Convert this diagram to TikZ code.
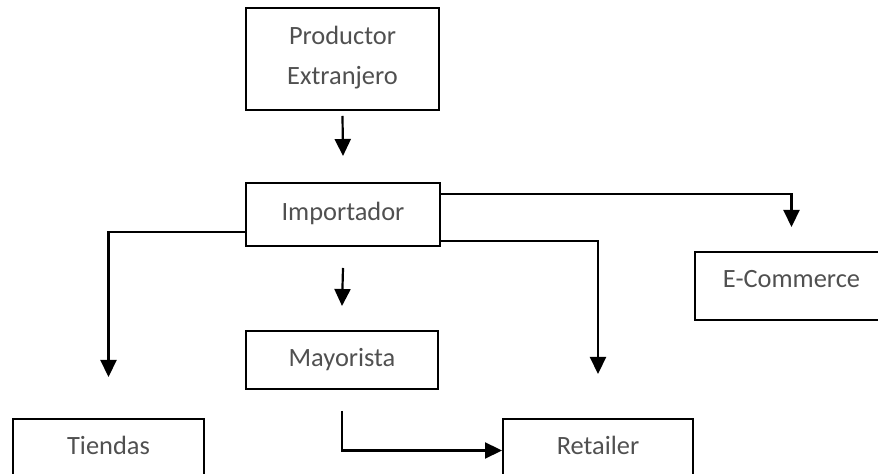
\documentclass[tikz,border=0pt]{standalone}
\usepackage{fontspec}
\setmainfont{Carlito}
\usetikzlibrary{arrows.meta}
\definecolor{labelgray}{RGB}{80,80,80}
\tikzset{
  boxnode/.style={draw, line width=1pt, inner sep=0pt, align=center,
    font=\fontsize{13.2}{20}\selectfont, text=labelgray},
  flow/.style={line width=1.1pt, -{Triangle[width=8pt,length=8.5pt]}},
}
\begin{document}
\begin{tikzpicture}[x=0.5pt,y=-0.5pt]
% Page size, as in the reference
\useasboundingbox (0,0) rectangle (878,474);
\clip (0,0) rectangle (878,474);

% The boxes
\node[boxnode, minimum width=96.5pt, text height=38.5pt, text depth=12.5pt] (prod) at (342.5,59) {Productor\\Extranjero};
\node[boxnode, minimum width=97pt, text height=19pt, text depth=12.5pt] (imp) at (343,214.5) {Importador};
\node[boxnode, minimum width=96.5pt, text height=18pt, text depth=16pt] (ecom) at (791.5,286) {E-Commerce};
\node[boxnode, minimum width=96pt, text height=18pt, text depth=11pt] (may) at (342,360) {Mayorista};
\node[boxnode, minimum width=95.5pt, text height=18pt, text depth=13.5pt] (tiendas) at (108.5,450.5) {Tiendas};
\node[boxnode, minimum width=95pt, text height=18pt, text depth=13.5pt] (retailer) at (598,450.5) {Retailer};

% The arrows
\draw[flow] ([yshift=-2.5pt]prod.south) -- ([yshift=13pt]imp.north);
\draw[flow] ([yshift=-8.75pt]imp.west) -| ([yshift=20.5pt]tiendas.north);
\draw[flow] ([yshift=10.25pt]imp.east) -| ([yshift=12pt]ecom.north);
\draw[flow] ([yshift=-13.25pt]imp.east) -| ([yshift=22pt]retailer.north);
\draw[flow] ([yshift=-10.5pt]imp.south) -- ([yshift=12pt]may.north);
\draw[flow] ([yshift=-10.5pt]may.south) |- (retailer.west);
\end{tikzpicture}
\end{document}
